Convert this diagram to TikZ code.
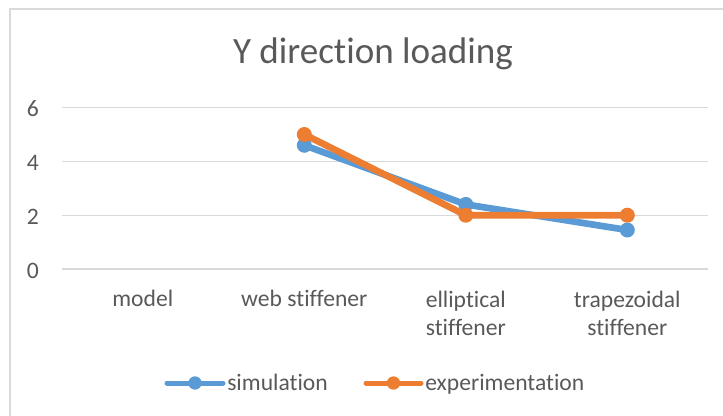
\documentclass[tikz,border=0pt]{standalone}
\usepackage{fontspec}
\setmainfont{Carlito}[Ligatures={NoCommon,NoRare,NoContextual}]
\definecolor{xlblue}{HTML}{5B9BD5}
\definecolor{xlorange}{HTML}{ED7D31}
\definecolor{xlgrid}{HTML}{D9D9D9}
\definecolor{xltext}{HTML}{595959}

\begin{document}
\begin{tikzpicture}[x=0.75pt,y=-0.75pt,
  lbl/.style={font=\fontsize{17.7}{21.2}\selectfont,text=xltext,inner sep=0pt},
  mk/.style={circle,fill=#1,inner sep=0pt,minimum size=11.25pt},
  ser/.style={line width=5pt,line join=round,#1}]
  \useasboundingbox (0,0) rectangle (723,415);
  % chart frame
  \draw[xlgrid,line width=1.5pt] (10,420) -- (10,9.3) -- (730,9.3);
  \node[font=\fontsize{27.8}{33}\selectfont,text=xltext,anchor=base,inner sep=0pt] (title) at (373,63) {Y direction loading};
  % gridlines and values
  \foreach \v in {0,2,4,6}{
    \draw[xlgrid,line width=1pt] (62,{269-\v*26.9}) -- (708,{269-\v*26.9});
    \node[lbl,anchor=east] (ytick\v) at (39,{270.5-\v*26.9}) {\v};
  }
  % categories
  \node[lbl,anchor=base] (cmodel) at (142.8,306.7) {model};
  \node[lbl,anchor=base] (cweb) at (304.3,306.7) {web stiffener};
  \node[lbl,align=center,anchor=north] (cell) at (465.8,290.4) {elliptical\\stiffener};
  \node[lbl,align=center,anchor=north] (ctrap) at (627.3,290.4) {trapezoidal\\stiffener};
  % simulation
  \coordinate (s1) at (304.3,{269-4.6*26.9});
  \coordinate (s2) at (465.8,{269-2.4*26.9});
  \coordinate (s3) at (627.3,{269-1.45*26.9});
  \draw[ser=xlblue] (s1) -- (s2) -- (s3);
  \foreach \p in {s1,s2,s3} \node[mk=xlblue] (m\p) at (\p) {};
  % experimentation
  \coordinate (e1) at (304.3,{269-5*26.9});
  \coordinate (e2) at (465.8,{269-2*26.9});
  \coordinate (e3) at (627.3,{269-2*26.9});
  \draw[ser=xlorange] (e1) -- (e2) -- (e3);
  \foreach \p in {e1,e2,e3} \node[mk=xlorange] (m\p) at (\p) {};
  % legend
  \coordinate (ls0) at (167,383);
  \coordinate (ls1) at (223,383);
  \draw[xlblue,line width=3.75pt,line cap=round] (ls0) -- (ls1);
  \node[mk=xlblue,minimum size=10pt] (lsm) at (195,383) {};
  \node[lbl,anchor=base west] (lsim) at (227,390) {simulation};
  \coordinate (le0) at (366,383);
  \coordinate (le1) at (421,383);
  \draw[xlorange,line width=3.75pt,line cap=round] (le0) -- (le1);
  \node[mk=xlorange,minimum size=10pt] (lem) at (393.5,383) {};
  \node[lbl,anchor=base west] (lexp) at (425,390) {experimentation};
\end{tikzpicture}
\end{document}
